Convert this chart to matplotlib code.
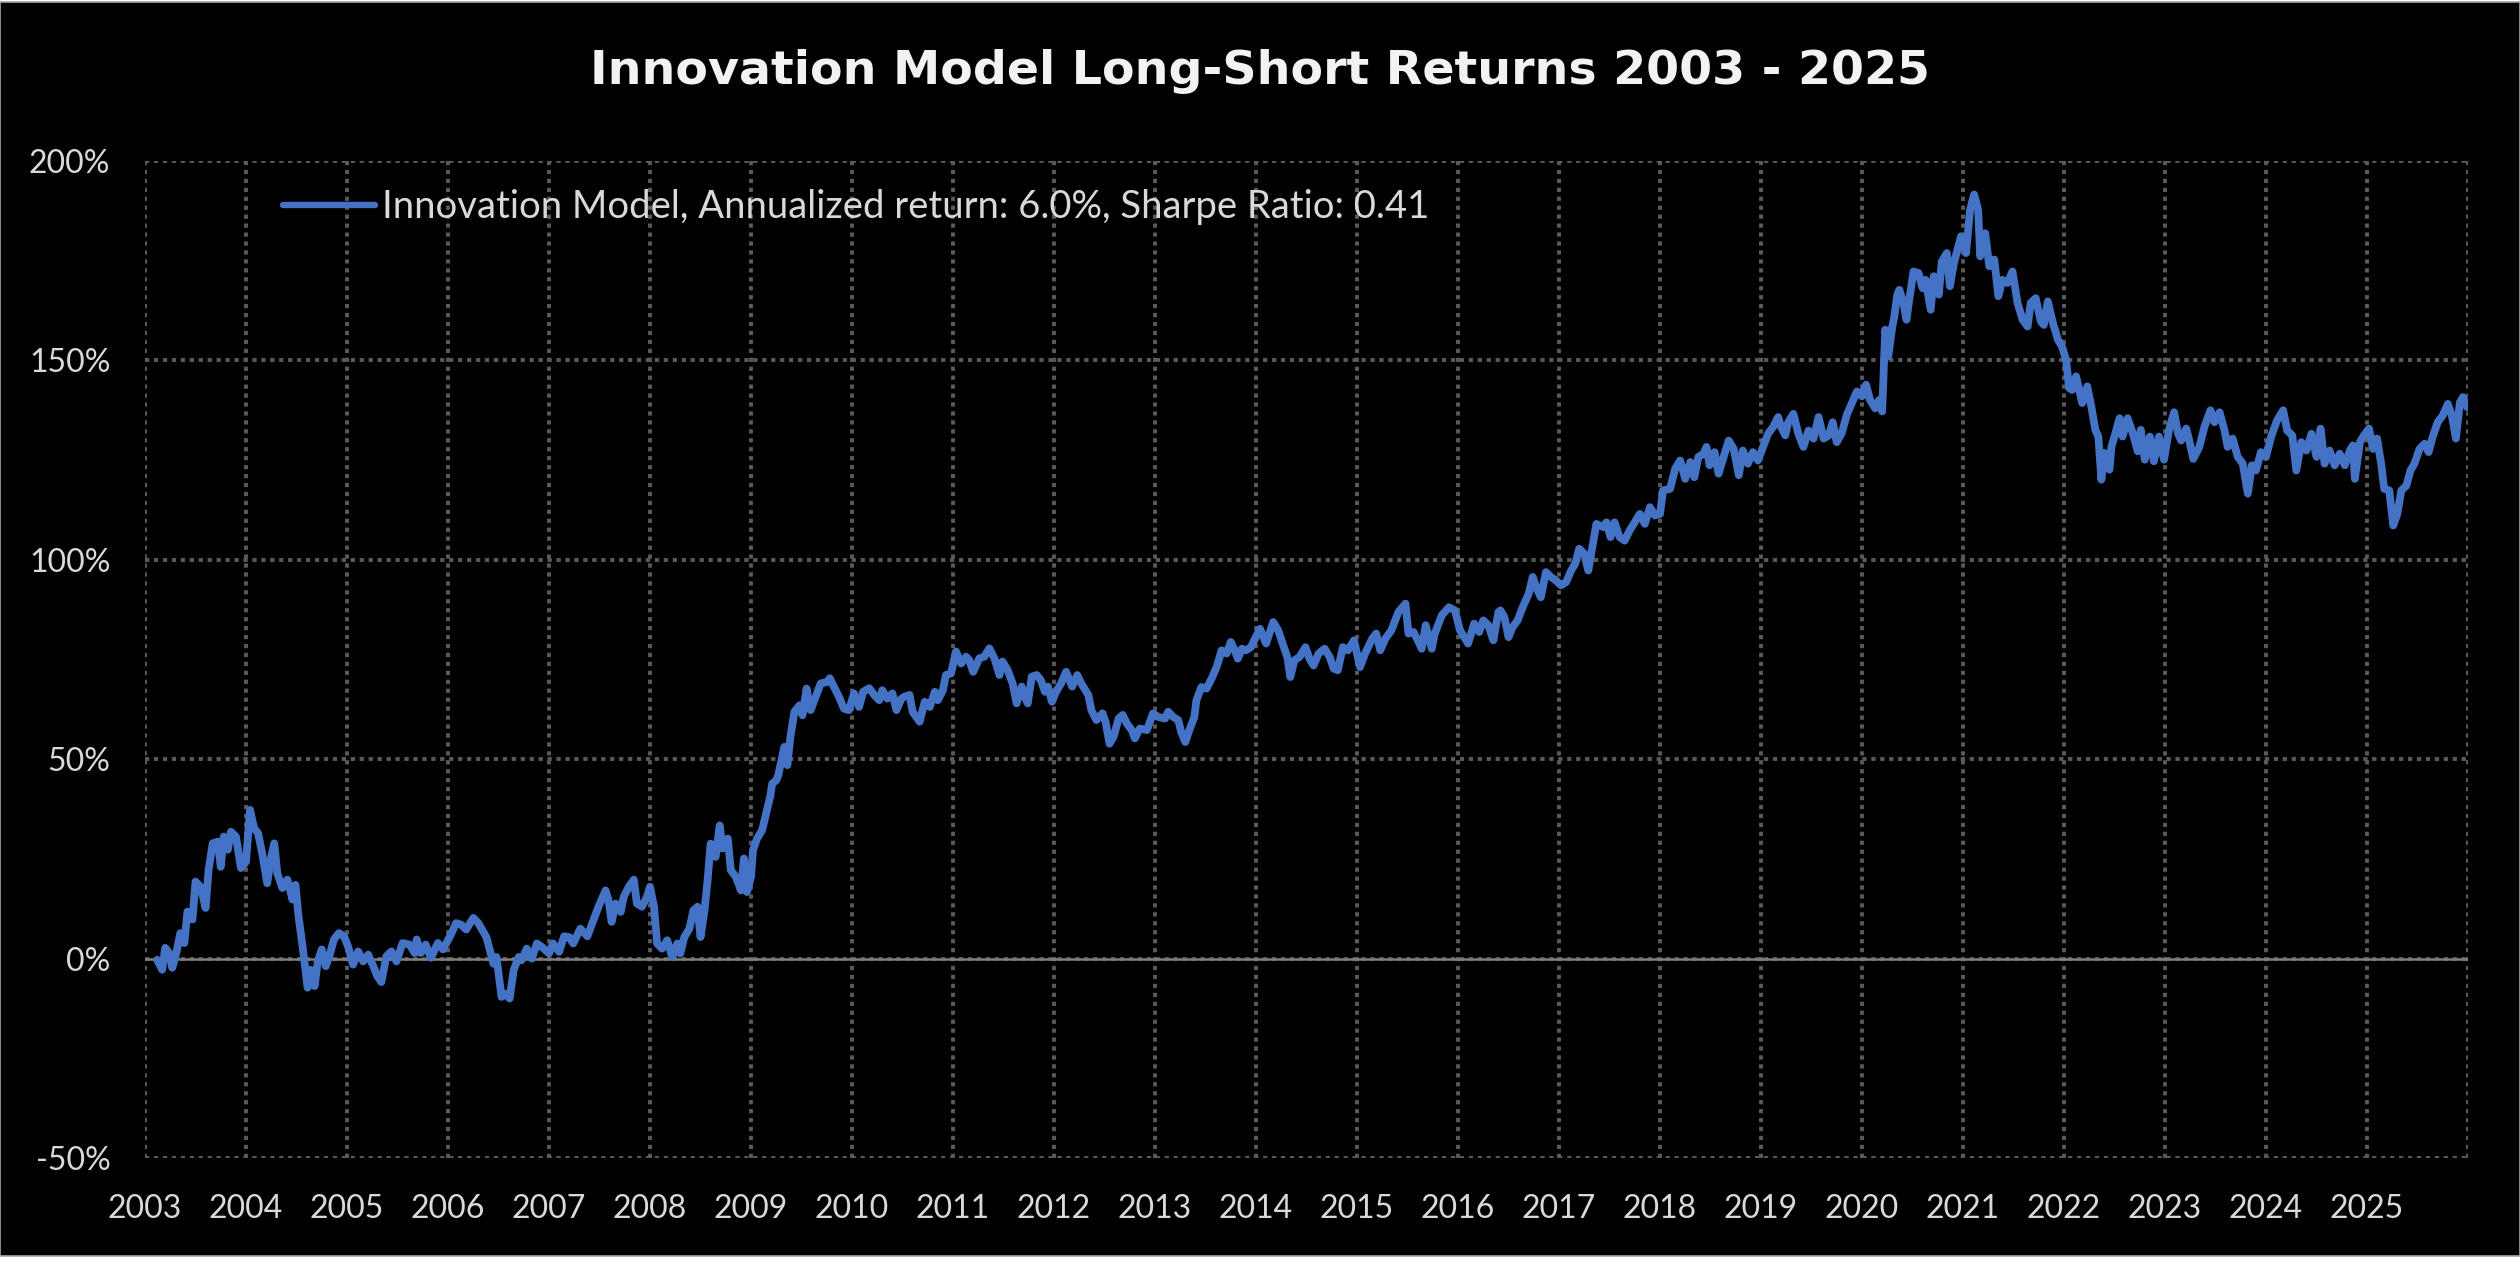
import numpy as np
import matplotlib.pyplot as plt
from matplotlib.patches import Rectangle

# values: decimal year, cumulative return in %
t_2003 = [2003.12, 2003.17, 2003.20, 2003.24, 2003.27, 2003.31, 2003.35, 2003.39, 2003.42, 2003.47,
          2003.50, 2003.55, 2003.60, 2003.63, 2003.67, 2003.72, 2003.75, 2003.78, 2003.82, 2003.85,
          2003.90, 2003.95, 2004.00, 2004.04, 2004.08, 2004.12, 2004.16, 2004.21, 2004.25, 2004.28,
          2004.31, 2004.36, 2004.41, 2004.46, 2004.49, 2004.52, 2004.56, 2004.61, 2004.64, 2004.68,
          2004.71, 2004.75, 2004.79, 2004.83, 2004.87, 2004.92, 2004.97, 2005.01, 2005.06, 2005.11,
          2005.16, 2005.21, 2005.26, 2005.30, 2005.34, 2005.39, 2005.44, 2005.49, 2005.55, 2005.62,
          2005.67, 2005.69, 2005.73, 2005.78, 2005.83, 2005.90, 2005.95, 2006.02, 2006.08, 2006.13,
          2006.18, 2006.25, 2006.30]
r_2003 = [-0.3, -2.8, 2.7, 1.4, -2.3, 1.4, 6.4, 3.9, 11.8, 9.8,
          19.3, 18.0, 12.7, 22.3, 28.9, 29.3, 23.0, 30.6, 27.3, 31.8,
          30.6, 22.7, 24.3, 37.3, 32.7, 31.4, 26.4, 18.9, 25.6, 28.9,
          21.4, 17.7, 19.8, 14.8, 18.5, 10.6, 3.1, -7.3, -2.8, -6.9,
          -0.7, 2.3, -1.9, 1.0, 4.8, 6.4, 5.6, 3.1, -1.5, 1.8,
          -0.7, 1.0, -1.9, -4.4, -5.9, 0.6, 1.8, -0.7, 3.9, 3.5,
          1.4, 4.8, 1.4, 3.5, 0.2, 3.9, 2.3, 5.6, 8.9, 8.5,
          7.3, 10.2, 8.9]

t_2006 = [2006.38, 2006.45, 2006.48, 2006.53, 2006.57, 2006.61, 2006.65, 2006.70, 2006.73, 2006.78,
          2006.83, 2006.88, 2006.93, 2007.00, 2007.04, 2007.10, 2007.15, 2007.20, 2007.24, 2007.31,
          2007.38, 2007.44, 2007.49, 2007.56, 2007.59, 2007.62, 2007.66, 2007.71, 2007.74, 2007.79,
          2007.84, 2007.87, 2007.92, 2007.97, 2008.00, 2008.04, 2008.07, 2008.12, 2008.17, 2008.22,
          2008.27, 2008.30, 2008.34, 2008.39, 2008.43, 2008.47, 2008.50, 2008.54, 2008.57, 2008.60,
          2008.65, 2008.69, 2008.72, 2008.77, 2008.80, 2008.85, 2008.90, 2008.93, 2008.96, 2009.00,
          2009.02, 2009.06, 2009.11, 2009.15, 2009.19, 2009.21, 2009.25, 2009.27, 2009.33, 2009.36,
          2009.39, 2009.43, 2009.48, 2009.51, 2009.55, 2009.59, 2009.64, 2009.69, 2009.76]
r_2006 = [5.4, -1.3, 0.4, -9.6, -8.8, -10.0, -2.9, 0.4, -0.4, 2.5,
          0.0, 3.8, 2.9, 1.3, 3.8, 1.7, 5.6, 5.4, 3.8, 7.5,
          5.6, 9.6, 13.0, 17.1, 14.6, 9.2, 13.8, 11.7, 15.5, 18.0,
          19.8, 13.8, 13.0, 15.5, 18.0, 13.0, 3.8, 2.5, 4.6, 0.4,
          3.8, 1.3, 5.4, 7.5, 12.1, 13.0, 5.4, 12.1, 19.6, 28.8,
          25.5, 33.4, 27.6, 30.1, 22.2, 20.5, 17.1, 25.1, 16.7, 20.5,
          27.2, 30.1, 32.2, 36.4, 40.6, 43.9, 44.7, 46.0, 53.1, 48.5,
          55.6, 61.9, 63.5, 61.0, 67.7, 62.3, 65.6, 69.0, 69.4]

t_2009 = [2009.78, 2009.82, 2009.87, 2009.92, 2009.97, 2010.02, 2010.07, 2010.11, 2010.17, 2010.22,
          2010.27, 2010.30, 2010.35, 2010.40, 2010.44, 2010.49, 2010.52, 2010.57, 2010.60, 2010.67,
          2010.72, 2010.77, 2010.82, 2010.85, 2010.90, 2010.93, 2010.98, 2011.03, 2011.08, 2011.13,
          2011.16, 2011.20, 2011.26, 2011.31, 2011.36, 2011.41, 2011.46, 2011.49, 2011.54, 2011.59,
          2011.63, 2011.68, 2011.71, 2011.74, 2011.78, 2011.83, 2011.87, 2011.91, 2011.94, 2011.98,
          2012.02, 2012.07, 2012.12, 2012.18, 2012.23, 2012.27, 2012.34, 2012.37, 2012.42, 2012.48,
          2012.51, 2012.55, 2012.59, 2012.64, 2012.68, 2012.72, 2012.77, 2012.80, 2012.85, 2012.92,
          2012.98, 2013.03, 2013.10]
r_2009 = [70.3, 68.2, 65.7, 62.7, 62.3, 66.5, 63.1, 66.9, 67.8, 66.1,
          64.8, 67.3, 65.2, 66.5, 62.3, 65.2, 65.7, 66.1, 61.9, 59.4,
          64.4, 63.1, 66.9, 64.8, 67.3, 71.1, 71.5, 77.0, 74.0, 75.7,
          74.9, 71.9, 75.3, 75.7, 77.8, 75.3, 71.1, 74.5, 72.4, 69.0,
          64.0, 68.2, 65.7, 64.0, 70.7, 71.1, 69.8, 66.9, 68.2, 64.4,
          66.9, 69.0, 71.9, 68.2, 71.1, 69.0, 66.1, 62.3, 59.8, 61.5,
          59.4, 53.9, 55.6, 60.2, 61.1, 59.0, 57.3, 55.2, 57.7, 57.3,
          61.5, 60.6, 60.2]

t_2013 = [2013.13, 2013.18, 2013.23, 2013.26, 2013.30, 2013.34, 2013.39, 2013.41, 2013.46, 2013.51,
          2013.56, 2013.61, 2013.66, 2013.71, 2013.75, 2013.79, 2013.82, 2013.86, 2013.90, 2013.95,
          2013.99, 2014.04, 2014.10, 2014.17, 2014.22, 2014.27, 2014.31, 2014.34, 2014.38, 2014.43,
          2014.49, 2014.53, 2014.57, 2014.62, 2014.68, 2014.73, 2014.77, 2014.81, 2014.86, 2014.91,
          2014.97, 2015.03, 2015.08, 2015.15, 2015.19, 2015.23, 2015.28, 2015.34, 2015.41, 2015.48,
          2015.51, 2015.56, 2015.61, 2015.64, 2015.68, 2015.74, 2015.77, 2015.84, 2015.91, 2015.97,
          2016.02, 2016.10, 2016.16, 2016.21, 2016.25, 2016.30, 2016.35, 2016.40]
r_2013 = [61.9, 60.6, 59.8, 56.8, 54.3, 57.3, 60.6, 64.8, 68.1, 67.7,
          70.2, 73.1, 77.3, 76.5, 79.4, 77.3, 75.2, 77.7, 77.3, 78.1,
          80.2, 82.7, 79.0, 84.4, 82.3, 78.5, 75.6, 70.6, 74.8, 75.6,
          78.1, 75.2, 73.5, 76.5, 77.7, 75.6, 72.7, 72.3, 78.1, 77.3,
          79.8, 73.1, 76.5, 80.2, 81.5, 77.3, 80.2, 82.3, 86.9, 89.0,
          81.5, 81.9, 79.4, 77.7, 83.6, 77.7, 81.5, 86.1, 88.1, 87.3,
          82.3, 79.0, 84.0, 81.9, 84.8, 83.6, 79.8, 86.9]

t_2016 = [2016.42, 2016.46, 2016.50, 2016.54, 2016.59, 2016.64, 2016.70, 2016.74, 2016.78, 2016.82,
          2016.87, 2016.92, 2016.97, 2017.02, 2017.07, 2017.12, 2017.16, 2017.20, 2017.25, 2017.29,
          2017.33, 2017.37, 2017.44, 2017.47, 2017.51, 2017.55, 2017.60, 2017.65, 2017.70, 2017.75,
          2017.80, 2017.85, 2017.90, 2017.95, 2018.00, 2018.03, 2018.10, 2018.15, 2018.20, 2018.25,
          2018.30, 2018.34, 2018.38, 2018.43, 2018.46, 2018.49, 2018.54, 2018.58, 2018.63, 2018.68,
          2018.73, 2018.78, 2018.82, 2018.87, 2018.92, 2018.97, 2019.02, 2019.07, 2019.12, 2019.17,
          2019.20, 2019.24, 2019.27, 2019.32, 2019.37, 2019.42, 2019.47, 2019.52, 2019.57, 2019.62,
          2019.67, 2019.71, 2019.75]
r_2016 = [87.3, 85.6, 80.6, 83.1, 84.8, 88.1, 91.5, 95.7, 92.7, 90.6,
          96.9, 95.7, 94.8, 93.6, 94.4, 97.3, 99.0, 102.8, 101.5, 97.3,
          103.2, 109.0, 108.2, 109.4, 105.7, 109.4, 105.7, 104.8, 107.4, 109.4,
          111.5, 109.0, 113.2, 111.1, 111.5, 117.4, 117.8, 122.8, 124.9, 120.3,
          124.5, 120.7, 125.8, 126.6, 128.3, 123.7, 127.0, 121.6, 125.8, 129.9,
          127.8, 121.2, 127.4, 124.1, 127.0, 124.9, 128.3, 131.6, 133.3, 135.8,
          133.3, 131.2, 134.5, 136.6, 131.6, 128.3, 132.4, 130.4, 135.8, 130.4,
          131.2, 134.5, 129.5]

t_2019 = [2019.80, 2019.85, 2019.90, 2019.95, 2020.00, 2020.04, 2020.08, 2020.13, 2020.17, 2020.20,
          2020.22, 2020.23, 2020.26, 2020.30, 2020.32, 2020.35, 2020.37, 2020.41, 2020.44, 2020.47,
          2020.51, 2020.56, 2020.60, 2020.63, 2020.68, 2020.71, 2020.76, 2020.79, 2020.84, 2020.87,
          2020.91, 2020.98, 2021.03, 2021.07, 2021.11, 2021.15, 2021.17, 2021.22, 2021.26, 2021.31,
          2021.35, 2021.39, 2021.44, 2021.49, 2021.54, 2021.59, 2021.64, 2021.67, 2021.72, 2021.77,
          2021.80, 2021.84, 2021.89, 2021.94, 2021.98, 2022.02, 2022.05, 2022.08, 2022.12, 2022.15,
          2022.18, 2022.23, 2022.27, 2022.31, 2022.34, 2022.37, 2022.40, 2022.45, 2022.47, 2022.50,
          2022.55, 2022.58, 2022.63, 2022.68, 2022.73, 2022.76, 2022.80, 2022.85, 2022.89, 2022.94,
          2022.99, 2023.04]
r_2019 = [131.8, 136.4, 139.3, 142.2, 141.0, 143.9, 140.1, 138.0, 140.1, 137.2,
          151.0, 157.7, 151.0, 158.5, 161.0, 166.5, 167.7, 164.4, 160.2, 165.6,
          172.3, 171.9, 168.1, 170.2, 162.7, 171.1, 166.5, 174.8, 176.9, 168.6,
          174.4, 181.1, 176.9, 187.8, 191.6, 187.8, 176.1, 181.9, 173.6, 175.3,
          166.1, 170.2, 169.4, 172.3, 164.4, 160.2, 158.5, 164.4, 165.6, 159.8,
          158.9, 164.8, 159.4, 155.2, 153.5, 150.2, 143.1, 142.6, 146.0, 142.6,
          139.3, 143.5, 138.5, 132.6, 130.9, 120.1, 126.8, 122.6, 128.4, 130.9,
          135.5, 130.9, 135.5, 131.8, 127.2, 132.6, 125.1, 130.9, 124.7, 130.9,
          125.1, 132.6]

t_2023 = [2023.09, 2023.13, 2023.16, 2023.21, 2023.24, 2023.28, 2023.34, 2023.39, 2023.45, 2023.49,
          2023.54, 2023.59, 2023.62, 2023.67, 2023.72, 2023.77, 2023.82, 2023.86, 2023.90, 2023.95,
          2024.00, 2024.05, 2024.11, 2024.17, 2024.21, 2024.26, 2024.30, 2024.35, 2024.40, 2024.45,
          2024.50, 2024.54, 2024.58, 2024.63, 2024.68, 2024.73, 2024.78, 2024.83, 2024.86, 2024.88,
          2024.93, 2024.97, 2025.02, 2025.06, 2025.10, 2025.14, 2025.17, 2025.22, 2025.26, 2025.30,
          2025.34, 2025.39, 2025.43, 2025.47, 2025.52, 2025.57, 2025.61, 2025.65, 2025.70, 2025.75,
          2025.80, 2025.84, 2025.88, 2025.92, 2025.95, 2025.99]
r_2023 = [137.0, 131.6, 129.9, 132.9, 129.9, 125.3, 128.3, 133.3, 137.5, 134.5,
          137.0, 132.4, 128.3, 130.4, 125.8, 124.1, 116.6, 123.7, 122.4, 127.0,
          125.8, 130.8, 135.0, 137.5, 132.4, 131.2, 122.4, 129.5, 127.4, 131.6,
          125.8, 132.9, 124.1, 127.4, 123.7, 126.6, 123.7, 127.4, 128.7, 120.3,
          129.5, 131.2, 132.9, 127.8, 130.4, 124.1, 117.8, 117.4, 108.6, 111.5,
          117.4, 118.6, 122.4, 124.1, 127.8, 129.1, 127.0, 130.8, 134.5, 136.2,
          139.1, 136.2, 130.4, 139.5, 140.8, 138.3]

year_ticks = list(range(2003, 2027))
year_labels = [str(y) for y in range(2003, 2026)] + [""]
pct_ticks = [-50, 0, 50, 100, 150, 200]

title = "Innovation Model Long-Short Returns 2003 - 2025"
series_label = "Innovation Model, Annualized return: 6.0%, Sharpe Ratio: 0.41"

t = np.concatenate([t_2003, t_2006, t_2009, t_2013, t_2016, t_2019, t_2023])
r = np.concatenate([r_2003, r_2006, r_2009, r_2013, r_2016, r_2019, r_2023])

W, H = 2520, 1265
fig = plt.figure(figsize=(W / 100, H / 100), dpi=100, facecolor="white")
fig.patches.append(Rectangle((0, 9 / H), 1, 1 - 11 / H, transform=fig.transFigure,
                             facecolor="black", edgecolor="#a6a6a6", lw=1.2, zorder=-10))

ax = fig.add_axes([145 / W, 1 - 1158 / H, (2468 - 145) / W, (1158 - 161) / H])
ax.set_facecolor("black")

ax.plot(t, r, color="#4472C4", lw=5.6, solid_joinstyle="round", solid_capstyle="round",
        label=series_label, zorder=3)
ax.axhline(0, color="#808080", lw=1.8, zorder=2)

ax.set_xlim(2003, 2026)
ax.set_ylim(-50, 200)
ax.set_xticks(year_ticks)
ax.set_xticklabels(year_labels)
ax.set_yticks(pct_ticks)
ax.set_yticklabels([f"{p}%" for p in pct_ticks])

ax.grid(True, color="#5a5a5a", lw=2.8, linestyle=(0, (1.1, 1.2)), zorder=1)
ax.set_axisbelow(True)
for side in ("top", "bottom", "left", "right"):
    ax.spines[side].set_visible(False)

ax.tick_params(length=0, labelsize=23, labelcolor="#d9d9d9")
ax.tick_params(axis="y", pad=25)
ax.tick_params(axis="x", pad=26)
for lab in ax.get_xticklabels() + ax.get_yticklabels():
    lab.set_family("Lato")

fig.text(0.5, 1 - 72 / H, title, ha="center", va="center", fontsize=34.2,
         fontweight="bold", color="#f2f2f2", family="DejaVu Sans")

leg = ax.legend(loc="upper left", bbox_to_anchor=(283 / W, 1 - 189 / H),
                bbox_transform=fig.transFigure, frameon=False,
                prop={"family": "Lato", "size": 27.5}, handlelength=2.4,
                handletextpad=0.2, borderpad=0, borderaxespad=0, labelcolor="#d9d9d9")
for line in leg.get_lines():
    line.set_solid_capstyle("round")
    line.set_linewidth(4.6)

fig.savefig("out.png", dpi=100, facecolor=fig.get_facecolor())
